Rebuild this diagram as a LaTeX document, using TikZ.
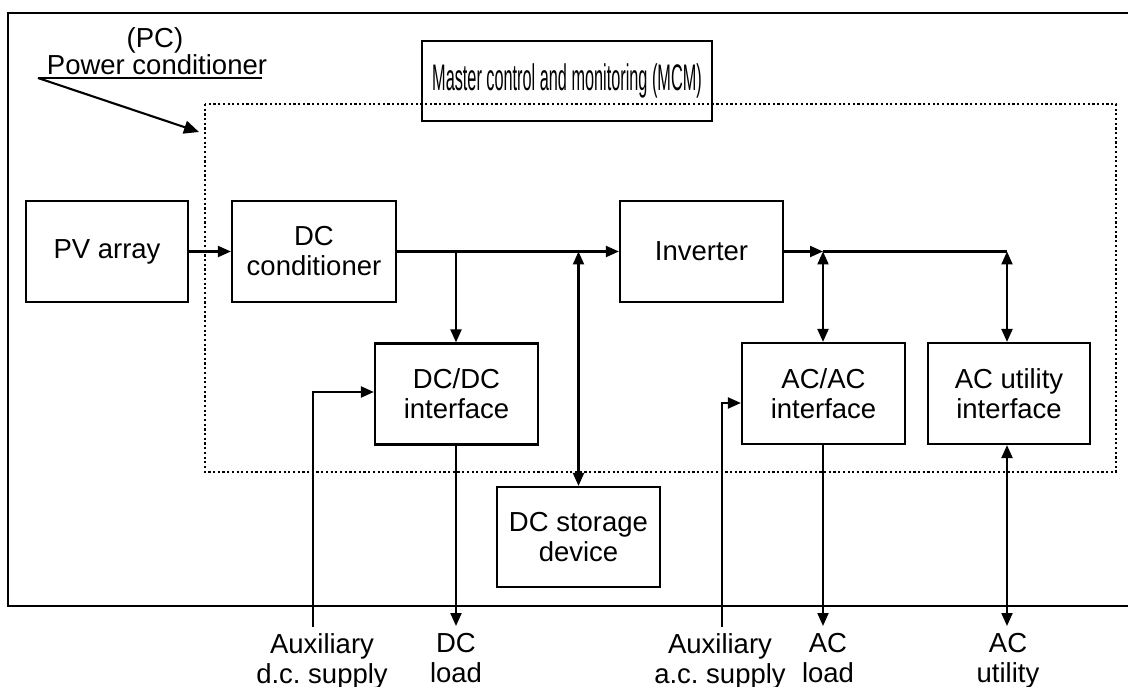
\documentclass[tikz,border=0pt]{standalone}
\usepackage{fontspec}
\setmainfont{Liberation Sans}
\usetikzlibrary{arrows.meta}
\frenchspacing
\begin{document}
\begin{tikzpicture}[x=1pt,y=-1pt,
  every node/.style={font=\fontsize{27.5}{30}\selectfont},
  blk/.style={draw,line width=2.2pt,minimum width=#1,minimum height=101pt,align=center,inner sep=0pt},
  conn/.style={line width=2.1pt},
  tip/.style={-{Triangle[length=13pt,width=11pt]}},
  dtip/.style={{Triangle[length=13pt,width=11pt]}-{Triangle[length=13pt,width=11pt]}},
  lbl/.style={align=center,anchor=north,inner sep=0pt},
  dotbox/.style={line width=2.2pt,dash pattern=on 2.2pt off 2.5pt}]
\useasboundingbox (0,0) rectangle (1128,687);
% outer frame (open at right)
\draw[line width=2.2pt] (1135,13) -- (8,13) -- (8,606) -- (1135,606);
% dotted power conditioner boundary
\draw[dotbox] (205,104) rectangle (1116,472);
% blocks
\node[draw,line width=2.2pt,minimum width=290pt,minimum height=80pt,inner sep=0pt] (mcm) at (567,81)
  {\fontsize{37}{40}\selectfont\scalebox{0.44}[1]{Master control and monitoring (MCM)}};
\node[blk=162pt] (pv) at (107,251.5) {PV array};
\node[blk=164pt] (dcc) at (314,251.5) {DC\\conditioner};
\node[blk=163pt] (inv) at (701.5,251.5) {Inverter};
\node[blk=163pt] (dcdc) at (456.5,394) {DC/DC\\interface};
\node[blk=163pt,minimum height=100pt] (stor) at (578.5,537) {DC storage\\device};
\node[blk=163pt] (acac) at (823.5,393.5) {AC/AC\\interface};
\node[blk=162pt] (acu) at (1009,393.5) {AC utility\\interface};
% PC label
\node[inner sep=0pt] (pc) at (155,40) {(PC)};
\node[inner sep=0pt,anchor=base] (pcname) at (157,75) {Power conditioner};
\coordinate (ulA) at (38,78);
\coordinate (ulB) at (262,78);
\coordinate (pcT) at (199,132);
\draw[conn] (ulA) -- (ulB);
\draw[conn,-{Triangle[length=15pt,width=13pt]}] (ulA) -- (pcT);
% junction coordinates
\coordinate (j1) at (456,251.5);
\coordinate (j2) at (578.5,251.5);
\coordinate (j3) at (823,251.5);
\coordinate (j4) at (1007,251.5);
% main chain
\draw[conn,tip] (pv.east) -- (dcc.west);
\draw[conn,tip] (dcc.east) -- (inv.west);
\draw[conn,tip] (inv.east) -- (j3);
\draw[conn] (j3) -- (j4);
\draw[conn,tip] (j1) -- (dcdc.north -| j1);
\draw[conn,dtip] (j2) -- (stor.north);
\draw[conn,dtip] (j3) -- (acac.north -| j3);
\draw[conn,dtip] (j4) -- (acu.north -| j4);
% outputs
\coordinate (dcl) at (456,626);
\coordinate (acl) at (823,626);
\coordinate (acut) at (1007,626);
\coordinate (auxd) at (313,627);
\coordinate (auxa) at (722,627);
\draw[conn,tip] (dcdc.south -| dcl) -- (dcl);
\draw[conn,tip] (acac.south -| acl) -- (acl);
\draw[conn,dtip] (acu.south -| acut) -- (acut);
\draw[conn,tip] (auxd) |- (dcdc.west |- 0,392);
\draw[conn,tip] (auxa) |- (acac.west |- 0,403);
% bottom labels
\node[lbl] (auxdl) at (322,633) {Auxiliary\\d.c. supply};
\node[lbl] (dcll) at (456,633) {DC\\load};
\node[lbl] (auxal) at (720,633) {Auxiliary\\a.c. supply};
\node[lbl] (acll) at (828,633) {AC\\load};
\node[lbl] (acul) at (1008,633) {AC\\utility};
\end{tikzpicture}
\end{document}
